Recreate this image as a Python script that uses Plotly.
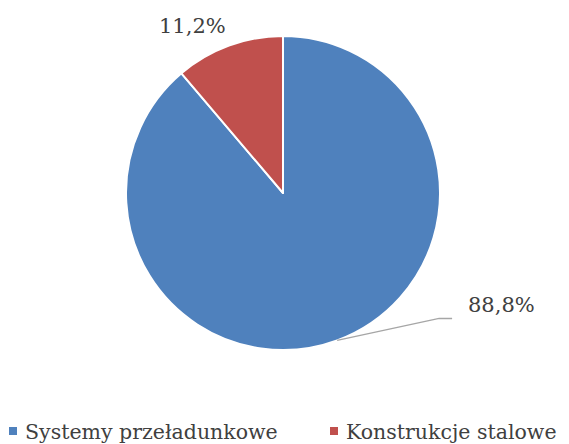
import math
import plotly.graph_objects as go

categories = ["Systemy przeładunkowe", "Konstrukcje stalowe"]
values = [88.8, 11.2]
label_texts = ["88,8%", "11,2%"]
colors = ["#4F81BD", "#C0504D"]

OFF = 8  # page body margin
W, H = 569 - OFF, 444 - OFF
cx, cy, r = 283 - OFF, 193 - OFF, 157
FONT = "DejaVu Serif"
TXT = "#404040"

def px(x, y):
    return x / W, (H - y) / H

fig = go.Figure(go.Pie(
    labels=categories,
    values=values,
    sort=False,
    direction="clockwise",
    rotation=0,
    textinfo="none",
    hoverinfo="label+percent",
    marker=dict(colors=colors, line=dict(color="white", width=2)),
    domain=dict(x=[(cx - r) / W, (cx + r) / W], y=[px(0, cy + r)[1], px(0, cy - r)[1]]),
    showlegend=False,
))

total = sum(values)
start = 0.0
edges = []
for v in values:
    mid = start + v / total * 360 / 2
    a = math.radians(mid)
    edges.append((cx + r * math.sin(a), cy - r * math.cos(a)))
    start += v / total * 360

# data labels
ex, ey = edges[0]
kx, ky = ex + 102, ey - 22
fig.add_shape(type="path", xref="paper", yref="paper",
              path="M {} {} L {} {} L {} {}".format(*px(ex, ey), *px(kx, ky), *px(kx + 13, ky)),
              line=dict(color="#A6A6A6", width=1.5))
fig.add_annotation(x=px(kx + 27, ky)[0], y=px(kx, ky - 13)[1], xref="paper", yref="paper",
                   text=label_texts[0], showarrow=False, xanchor="left", yanchor="middle",
                   font=dict(family=FONT, size=21, color=TXT))
ex2, ey2 = edges[1]
fig.add_annotation(x=px(ex2 - 36, ey2)[0], y=px(ex2, ey2 - 20)[1], xref="paper", yref="paper",
                   text=label_texts[1], showarrow=False, xanchor="center", yanchor="middle",
                   font=dict(family=FONT, size=21, color=TXT))

# legend (bottom row): square swatch + category name
legend_x = [9 - OFF, 330 - OFF]   # swatch left edges
legend_y = 431 - OFF              # row centre
sq = 8
for name, col, lx in zip(categories, colors, legend_x):
    x0, y0 = px(lx, legend_y - sq / 2)
    x1, y1 = px(lx + sq, legend_y + sq / 2)
    fig.add_shape(type="rect", xref="paper", yref="paper", x0=x0, x1=x1, y0=y1, y1=y0,
                  fillcolor=col, line=dict(width=0))
    fig.add_annotation(x=px(lx + sq + 6, 0)[0], y=px(0, legend_y + 1)[1], xref="paper", yref="paper",
                       text=name, showarrow=False, xanchor="left", yanchor="middle",
                       font=dict(family=FONT, size=20.5, color=TXT))

fig.update_layout(
    width=W, height=H,
    margin=dict(l=0, r=0, t=0, b=0, autoexpand=False),
    paper_bgcolor="white", plot_bgcolor="white",
    showlegend=False,
)

fig.write_html("out.html")
